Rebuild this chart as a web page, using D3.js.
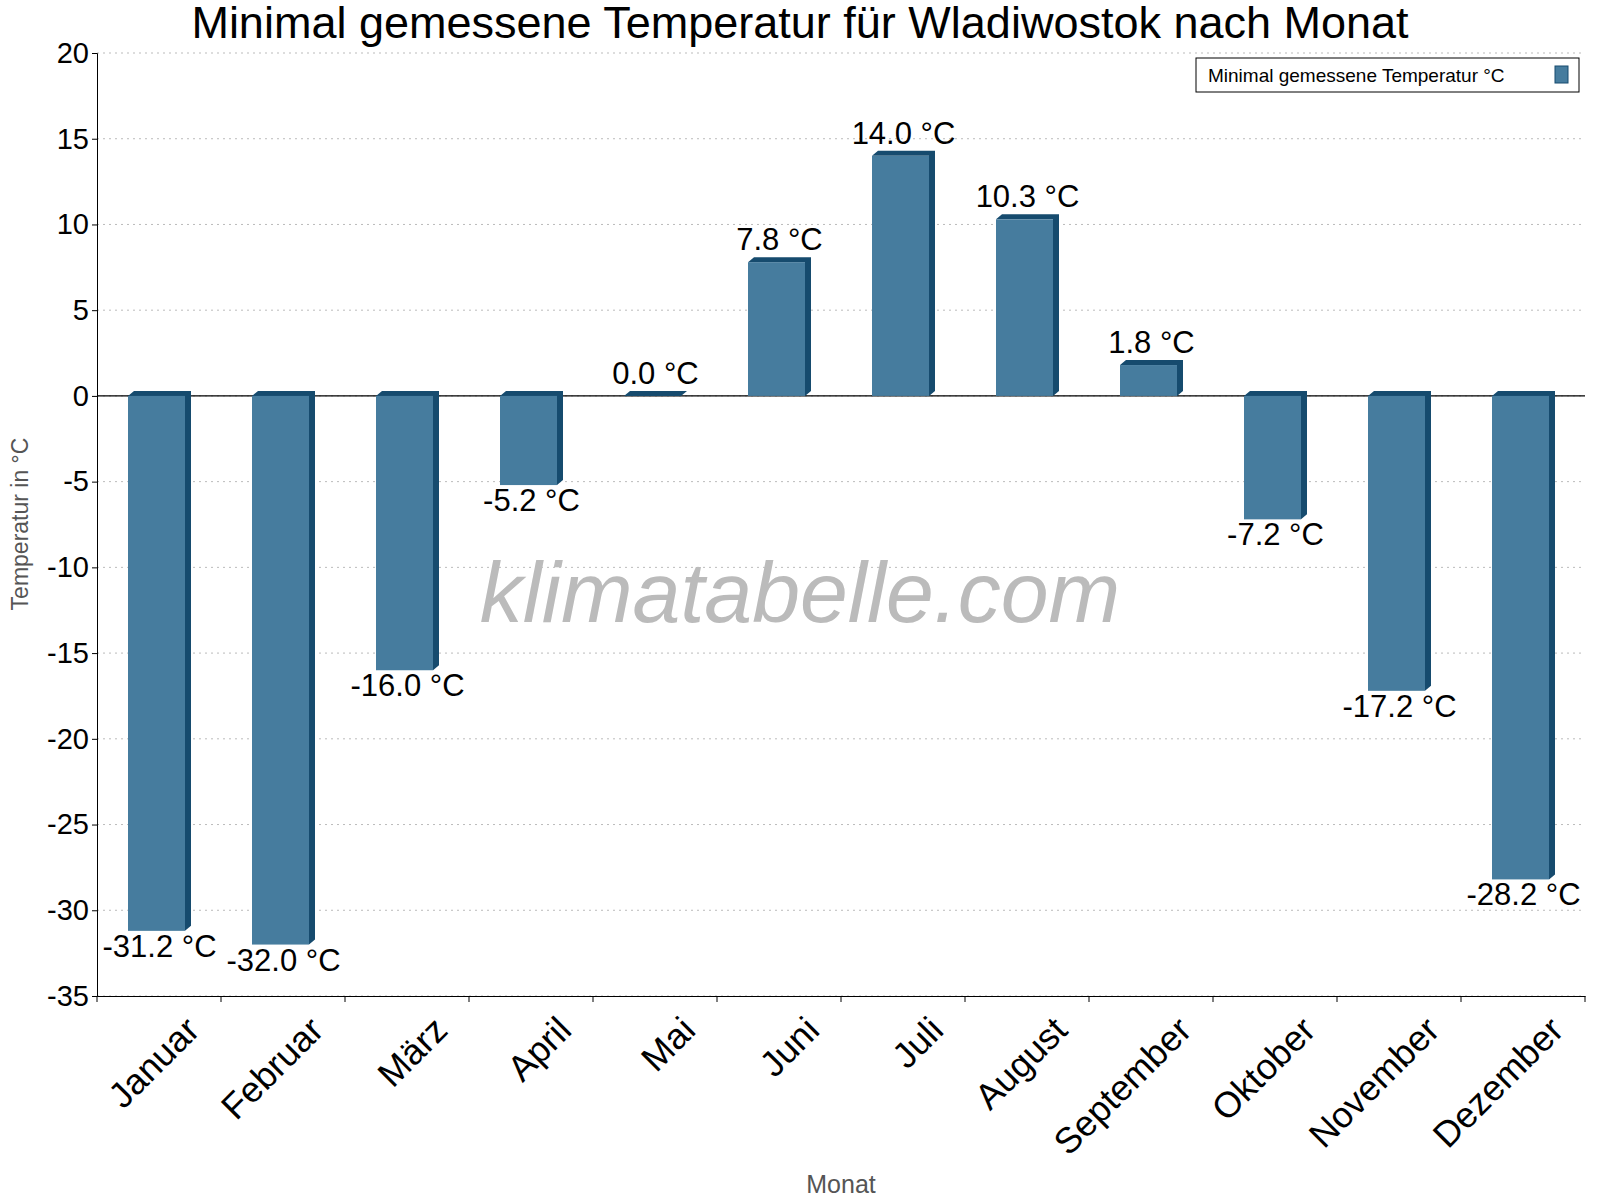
<!DOCTYPE html>
<html><head><meta charset="utf-8">
<script src="https://cdn.jsdelivr.net/npm/d3@7"></script>
<style>body{margin:0;background:#fff}svg{font-family:Arial,"Liberation Sans",sans-serif}</style>
</head><body><svg id="c" width="1600" height="1200"></svg>
<script>
const months=["Januar","Februar","März","April","Mai","Juni","Juli","August","September","Oktober","November","Dezember"];
const values=[-31.2,-32.0,-16.0,-5.2,0.0,7.8,14.0,10.3,1.8,-7.2,-17.2,-28.2];
const yTicks=[20,15,10,5,0,-5,-10,-15,-20,-25,-30,-35];
const svg=d3.select("#c");
const L=97,R=1585,T=53,B=996;
const x=d3.scaleBand().domain(months).range([L,R]);
const y=d3.scaleLinear().domain([-35,20]).range([B,T]);
svg.append("g").selectAll("line").data(yTicks).join("line")
 .attr("x1",L).attr("x2",R).attr("y1",d=>y(d)).attr("y2",d=>y(d))
 .attr("stroke","#bbb").attr("stroke-dasharray","2,4");
const ya=svg.append("g").attr("transform",`translate(${L},0)`).call(d3.axisLeft(y).tickValues(yTicks).tickSize(5).tickFormat(d=>String(d)));
ya.selectAll("text").attr("font-size",29).attr("fill","#000").attr("font-family","Arial,'Liberation Sans'");
ya.select(".domain").attr("stroke","#000");
const xa=svg.append("g").attr("transform",`translate(0,${B})`).call(d3.axisBottom(x).tickSize(0).tickFormat(""));
xa.select(".domain").attr("stroke","#000");
svg.append("g").selectAll("line").data(d3.range(13)).join("line")
 .attr("x1",i=>L+i*x.step()).attr("x2",i=>L+i*x.step()).attr("y1",B).attr("y2",B+6).attr("stroke","#000");
svg.append("g").selectAll("text").data(months).join("text")
 .attr("transform",d=>`translate(${x(d)+x.step()/2+22},${B+16}) rotate(-45)`)
 .attr("text-anchor","end").attr("dy","0.8em").attr("font-size",36).text(d=>d);
svg.append("text").attr("x",800).attr("y",622).attr("text-anchor","middle").attr("font-size",86)
 .attr("font-style","italic").attr("fill","#bbb").text("klimatabelle.com");
svg.append("line").attr("x1",L).attr("x2",R).attr("y1",y(0)).attr("y2",y(0)).attr("stroke","#000").attr("stroke-width",1.2);
const bw=57,off=31,dx=6,dy=5;
const g=svg.append("g").selectAll("g").data(values).join("g");
g.append("path").attr("fill","#164b6e").attr("d",(d,i)=>{
 const x0=x(months[i])+off, ytop=y(Math.max(0,d)), ybot=y(Math.min(0,d));
 return `M${x0},${ytop} L${x0+dx},${ytop-dy} L${x0+bw+dx},${ytop-dy} L${x0+bw+dx},${ybot-dy} L${x0+bw},${ybot} L${x0+bw},${ytop} Z`;});
g.append("rect").attr("fill","#467c9e")
 .attr("x",(d,i)=>x(months[i])+off).attr("width",bw)
 .attr("y",d=>y(Math.max(0,d))).attr("height",d=>Math.abs(y(d)-y(0)));
g.append("text").attr("text-anchor","middle").attr("font-size",31)
 .attr("x",(d,i)=>x(months[i])+off+bw/2+3)
 .attr("y",d=>d>=0?y(d)-12:y(d)+26)
 .text(d=>d.toFixed(1)+" °C");
svg.append("text").attr("x",800).attr("y",38).attr("text-anchor","middle").attr("font-size",45).text("Minimal gemessene Temperatur für Wladiwostok nach Monat");
svg.append("text").attr("x",841).attr("y",1193).attr("text-anchor","middle").attr("font-size",25).attr("fill","#555").text("Monat");
svg.append("text").attr("transform","translate(28,524) rotate(-90)").attr("text-anchor","middle").attr("font-size",23).attr("fill","#555").text("Temperatur in °C");
svg.append("rect").attr("x",1196).attr("y",58).attr("width",383).attr("height",34).attr("fill","#fff").attr("stroke","#000");
svg.append("text").attr("x",1208).attr("y",82).attr("font-size",19).text("Minimal gemessene Temperatur °C");
svg.append("rect").attr("x",1555).attr("y",66).attr("width",13).attr("height",17).attr("fill","#467c9e").attr("stroke","#164b6e");
</script></body></html>
